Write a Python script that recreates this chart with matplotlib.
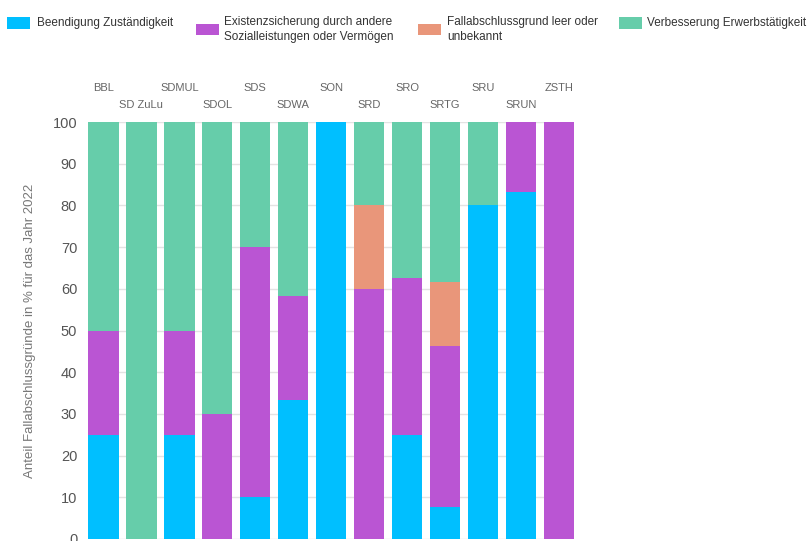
import matplotlib
matplotlib.use("Agg")
import matplotlib.pyplot as plt
from matplotlib.patches import Rectangle
import numpy as np

plt.rcParams['font.family'] = ['Liberation Sans', 'DejaVu Sans']

categories = ["BBL", "SD ZuLu", "SDMUL", "SDOL", "SDS", "SDWA", "SON",
              "SRD", "SRO", "SRTG", "SRU", "SRUN", "ZSTH"]
series_names = ["Beendigung Zuständigkeit",
                "Existenzsicherung durch andere\nSozialleistungen oder Vermögen",
                "Fallabschlussgrund leer oder\nunbekannt",
                "Verbesserung Erwerbstätigkeit"]
beendigung = [25, 0, 25, 0, 10, 33.3, 100, 0, 25, 7.7, 80, 83.3, 0]
existenz = [25, 0, 25, 30, 60, 25, 0, 60, 37.5, 38.5, 0, 16.7, 100]
fallabschluss = [0, 0, 0, 0, 0, 0, 0, 20, 0, 15.4, 0, 0, 0]
verbesserung = [50, 100, 50, 70, 30, 41.7, 0, 20, 37.5, 38.4, 20, 0, 0]
colors = ["#00BFFF", "#BA55D3", "#E9967A", "#66CDAA"]
y_label = "Anteil Fallabschlussgründe in % für das Jahr 2022"

W, H = 811, 541
fig = plt.figure(figsize=(W / 100, H / 100), dpi=100)
ax = fig.add_axes([88.3 / W, 2 / H, (574 - 88.3) / W, (539 - 122) / H])

x = np.arange(len(categories))
bottom = np.zeros(len(categories))
for vals, col in zip([beendigung, existenz, fallabschluss, verbesserung], colors):
    v = np.array(vals, dtype=float)
    ax.bar(x, v, width=0.8, bottom=bottom, color=col, linewidth=0, zorder=2)
    bottom += v

ax.set_xlim(-0.4, len(categories) - 0.6)
ax.set_ylim(0, 100)
ax.set_yticks(np.arange(0, 101, 10))
ax.yaxis.grid(True, color="#e3e3e3", linewidth=1, zorder=0)
ax.set_axisbelow(True)
for s in ax.spines.values():
    s.set_visible(False)
ax.set_xticks([])
ax.tick_params(axis='y', length=0, pad=8, labelsize=10.5, labelcolor="#555555")
ax.set_ylabel(y_label, fontsize=9.5, color="#777777", labelpad=12)

# staggered category labels above the plot
for i, c in enumerate(categories):
    yy = 100 + (34 / 4.17) if i % 2 == 0 else 100 + (17.5 / 4.17)
    ax.text(i, yy, c, ha="center", va="center", fontsize=8,
            color="#666666", clip_on=False)

# legend (manual, figure pixel coordinates)
def fx(px):
    return px / W

def fy(py):
    return 1 - py / H

legend_pos = [(7, 37, 23), (196, 224, 29.5), (418, 447, 29.5), (619, 647, 23)]
for (px0, tx, cy), name, col in zip(legend_pos, series_names, colors):
    fig.patches.append(Rectangle((fx(px0), fy(cy + 5.5)), 23 / W, 11 / H,
                                 transform=fig.transFigure, facecolor=col,
                                 edgecolor="none"))
    fig.text(fx(tx), fy(cy), name, ha="left", va="center", fontsize=8.5,
             color="#333333", linespacing=1.25)

fig.savefig("out.png", dpi=100)
